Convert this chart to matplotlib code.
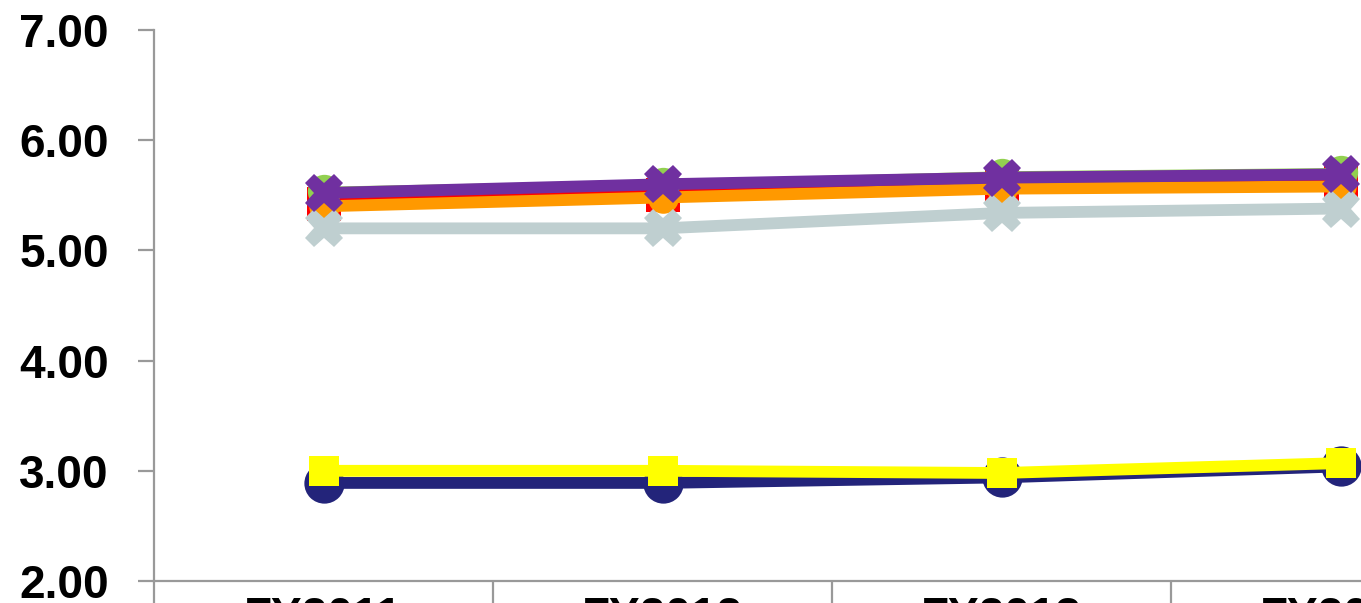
import matplotlib
matplotlib.use("Agg")
import matplotlib.pyplot as plt
import numpy as np

categories = ["FY2011", "FY2012", "FY2013", "FY2014"]
navy_vals = [2.89, 2.89, 2.94, 3.04]
yellow_vals = [3.00, 3.00, 2.98, 3.07]
red_vals = [5.42, 5.50, 5.58, 5.61]
green_vals = [5.54, 5.60, 5.68, 5.71]
orange_vals = [5.40, 5.48, 5.56, 5.58]
grey_vals = [5.20, 5.20, 5.34, 5.38]
purple_vals = [5.52, 5.60, 5.66, 5.69]
yticks = [2.0, 3.0, 4.0, 5.0, 6.0, 7.0]

W, H = 1361, 603
fig = plt.figure(figsize=(W / 100, H / 100), dpi=100)
ax = fig.add_axes([154 / W, 22 / H, 1356 / W, 551 / H])

x = np.arange(len(categories))
lw = 8.5
series = [
    (navy_vals, "#23247A", "o", 29, 1, lw),
    (yellow_vals, "#FFFF00", "s", 21, 2, lw),
    (red_vals, "#FF0000", "s", 25, 3, lw),
    (green_vals, "#92D050", "o", 24, 4, 6),
    (orange_vals, "#FF9900", "o", 22, 5, lw),
    (grey_vals, "#BFCFD0", "X", 28, 6, lw),
    (purple_vals, "#7030A0", "X", 28, 7, lw),
]
for vals, col, mk, ms, z, w in series:
    ax.plot(x, vals, color=col, lw=w, marker=mk, markersize=ms,
            markeredgewidth=0, solid_joinstyle="round", zorder=z, clip_on=False)

ax.set_xlim(-0.5, len(categories) - 0.5)
ax.set_ylim(2, 7)
ax.set_yticks(yticks)
ax.set_yticklabels([f"{v:.2f}" for v in yticks])

ax.set_xticks(np.arange(len(categories) + 1) - 0.5)
ax.set_xticklabels([])
ax.set_xticks(x, minor=True)
ax.set_xticklabels(categories, minor=True)

for s in ["top", "right"]:
    ax.spines[s].set_visible(False)
for s in ["left", "bottom"]:
    ax.spines[s].set_color("#999999")
    ax.spines[s].set_linewidth(1.6)

for lab in ax.get_yticklabels() + ax.get_xticklabels(minor=True):
    lab.set_fontfamily("Liberation Sans")
    lab.set_fontweight("bold")
    lab.set_fontsize(33)

ax.tick_params(axis="y", which="major", length=11.5, width=1.6, color="#999999", pad=21)
ax.tick_params(axis="x", which="major", length=30, width=1.6, color="#999999", direction="out")
ax.tick_params(axis="x", which="minor", length=0, pad=11)

fig.savefig("out.png", dpi=100)
